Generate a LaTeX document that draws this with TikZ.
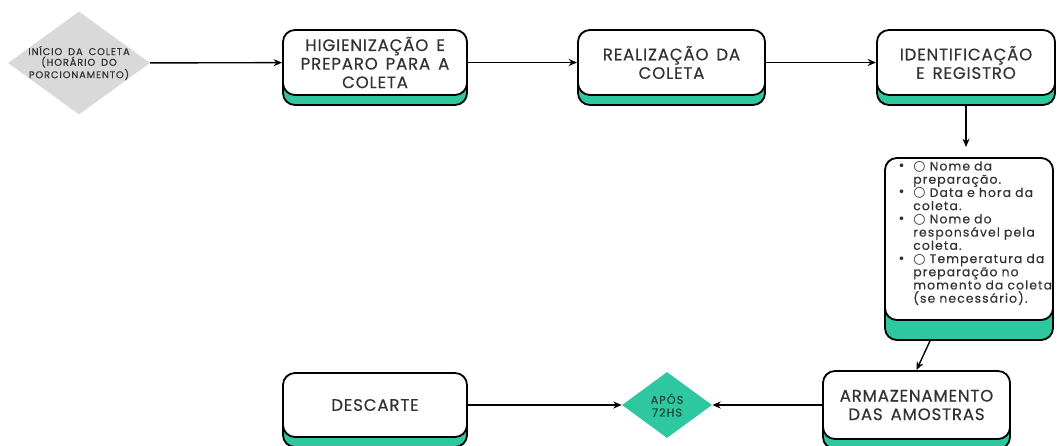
\documentclass[tikz,border=0pt]{standalone}
\usepackage{fontspec}
\setmainfont{Poppins}
\newfontfamily\caixa{Poppins}[LetterSpace=5, WordSpace=1.5, FakeBold=0.4]
\newfontfamily\miuda{Poppins}[LetterSpace=9, WordSpace=1.7, FakeBold=0.3]
\newfontfamily\simbolo{DejaVu Sans}
\usepackage{enumitem}
\usetikzlibrary{shapes.geometric,shadows,arrows.meta}
\definecolor{verde}{RGB}{46,200,160}
\definecolor{cinza}{RGB}{217,217,217}
\definecolor{texto}{RGB}{50,50,50}
\definecolor{textoverde}{RGB}{35,70,58}

\begin{document}
\begin{tikzpicture}[
            x=0.025cm, y=-0.025cm,
            etapa/.style={draw, rounded corners=0.3cm, line width=1.3pt, fill=white,
                text=texto, align=center, font=\caixa\fontsize{11.8}{13.2}\selectfont,
                copy shadow={shadow xshift=0pt, shadow yshift=-#1, fill=verde, draw=black, line width=1.3pt}},
            etapa/.default=0.25cm,
            decisao/.style={diamond, inner sep=0pt},
            seta/.style={-{Stealth[length=6pt,width=5pt]},line width=1pt}
            ]
            \useasboundingbox (0,0) rectangle (1057,446);
            % linha de cima
            \node[decisao, fill=cinza, minimum width=3.55cm, minimum height=2.575cm,
                label={[align=center, text=texto, font=\miuda\fontsize{7}{7.6}\selectfont]center:INÍCIO DA COLETA\\(HORÁRIO DO\\PORCIONAMENTO)}] (inicio) at (79,63) {};
            \node[etapa, minimum width=4.6cm, minimum height=1.625cm] (higienizacao) at (375,62.5) {HIGIENIZAÇÃO E\\PREPARO PARA A\\COLETA};
            \node[etapa, minimum width=4.675cm, minimum height=1.625cm] (realizacao) at (671.5,62.5) {REALIZAÇÃO DA\\COLETA};
            \node[etapa, minimum width=4.45cm, minimum height=1.625cm] (identificacao) at (966,62.5) {IDENTIFICAÇÃO\\E REGISTRO};
            % caixa da lista
            \node[etapa=0.5cm, minimum width=4.2cm, minimum height=4.05cm] (registro) at (969,239) {};
            \node[font=\miuda\fontsize{8.8}{9.4}\selectfont, text=texto, text width=4.6cm, align=left, inner sep=0pt, anchor=north west] (itens) at (888,157) {%
                \begin{itemize}[label={\simbolo\small •}, leftmargin=0.625cm, labelsep=0.2cm, itemsep=0pt, topsep=0pt, parsep=0pt, partopsep=0pt]
                \item {\simbolo\fontsize{10}{9.4}\selectfont ○} Nome da\newline preparação.
                \item {\simbolo\fontsize{10}{9.4}\selectfont ○} Data e hora da\newline coleta.
                \item {\simbolo\fontsize{10}{9.4}\selectfont ○} Nome do\newline responsável pela\newline coleta.
                \item {\simbolo\fontsize{10}{9.4}\selectfont ○} Temperatura da\newline preparação no\newline momento da coleta\newline (se necessário).
                \end{itemize}};
            % linha de baixo
            \node[etapa, minimum width=4.675cm, minimum height=1.7cm] (armazenamento) at (916.5,405) {ARMAZENAMENTO\\DAS AMOSTRAS};
            \node[decisao, fill=verde, text=textoverde, align=center, font=\miuda\fontsize{8}{9}\selectfont,
                minimum width=2.25cm, minimum height=1.65cm] (apos) at (667,405) {APÓS\\72HS};
            \node[etapa, minimum width=4.6cm, minimum height=1.6cm] (descarte) at (375,405) {DESCARTE};
            % setas
            \draw[seta] (inicio) -- (higienizacao);
            \draw[seta] (higienizacao) -- (realizacao);
            \draw[seta] (realizacao) -- (identificacao);
            \draw[seta, shorten >=0.25cm] ([yshift=-0.25cm]identificacao.south) -- (identificacao.south |- registro.north);
            \draw[seta] ([xshift=-0.975cm,yshift=-0.5cm]registro.south) -- (armazenamento.north);
            \draw[seta] (armazenamento) -- (apos);
            \draw[seta] (descarte) -- (apos);
        \end{tikzpicture}
\end{document}
